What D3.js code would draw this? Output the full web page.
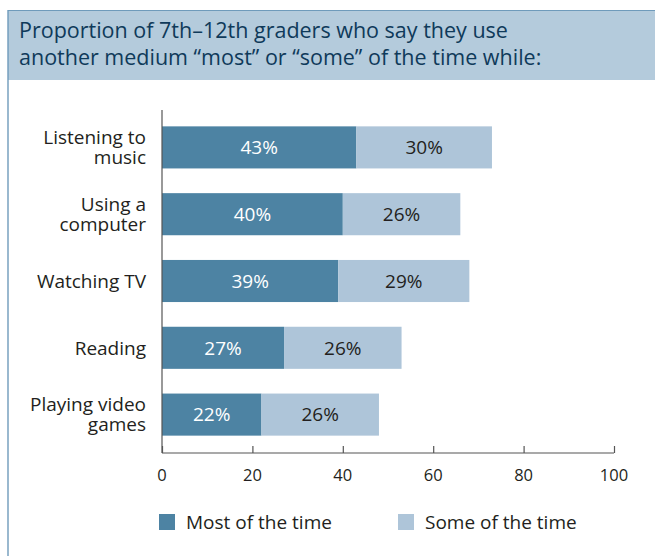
<!DOCTYPE html>
<html>
<head>
<meta charset="utf-8">
<script src="https://cdn.jsdelivr.net/npm/d3@7"></script>
<style>
  html, body { margin: 0; padding: 0; background: #fff; }
  svg { display: block; }
  text { font-family: "Open Sans", "Noto Sans", sans-serif; }
</style>
</head>
<body>
<svg id="chart" width="655" height="556"></svg>
<script>
// Activities, with multi-line labels
const categories = [
  ["Listening to", "music"],
  ["Using a", "computer"],
  ["Watching TV"],
  ["Reading"],
  ["Playing video", "games"]
];
const mostValues = [43, 40, 39, 27, 22];
const someValues = [30, 26, 29, 26, 26];
const seriesNames = ["Most of the time", "Some of the time"];
const xTicks = [0, 20, 40, 60, 80, 100];
const titleLines = [
  "Proportion of 7th\u201312th graders who say they use",
  "another medium \u201cmost\u201d or \u201csome\u201d of the time while:"
];

const colors = ["#4d83a3", "#aec5d9"];
const textColor = "#231f20";
const frameColor = "#6f9bbb";

const svg = d3.select("#chart");

// Header band with its frame rules
svg.append("rect")
  .attr("x", 8).attr("y", 10).attr("width", 660).attr("height", 70)
  .attr("fill", "#b4cbdc");
svg.append("line")
  .attr("x1", 8).attr("x2", 655).attr("y1", 10.5).attr("y2", 10.5)
  .attr("stroke", frameColor).attr("stroke-width", 1.2);
svg.append("line")
  .attr("x1", 8).attr("x2", 8).attr("y1", 10).attr("y2", 556)
  .attr("stroke", frameColor).attr("stroke-width", 1.4);

svg.selectAll("text.title")
  .data(titleLines)
  .join("text")
  .attr("class", "title")
  .attr("x", 19)
  .attr("y", (d, i) => 38 + i * 27)
  .attr("fill", "#0f3a5a")
  .attr("font-size", 21.5)
  .text(d => d);

// Scales
const x = d3.scaleLinear().domain([0, 100]).range([162, 614]);
const y = d3.scaleBand()
  .domain(d3.range(categories.length))
  .range([113, 449])
  .paddingInner(0.37)
  .paddingOuter(0.2);

const rows = categories.map((c, i) => ({ label: c, most: mostValues[i], some: someValues[i], i }));

const g = svg.append("g");

// Stacked bars
g.selectAll("rect.most")
  .data(rows)
  .join("rect")
  .attr("x", x(0))
  .attr("y", d => y(d.i))
  .attr("width", d => x(d.most) - x(0))
  .attr("height", y.bandwidth())
  .attr("fill", colors[0]);

g.selectAll("rect.some")
  .data(rows)
  .join("rect")
  .attr("x", d => x(d.most))
  .attr("y", d => y(d.i))
  .attr("width", d => x(d.most + d.some) - x(d.most))
  .attr("height", y.bandwidth())
  .attr("fill", colors[1]);

// Value labels
g.selectAll("text.mostLab")
  .data(rows)
  .join("text")
  .attr("x", d => (x(0) + x(d.most)) / 2)
  .attr("y", d => y(d.i) + y.bandwidth() / 2)
  .attr("dy", "0.36em")
  .attr("text-anchor", "middle")
  .attr("font-size", 19)
  .attr("fill", "#fff")
  .text(d => d.most + "%");

g.selectAll("text.someLab")
  .data(rows)
  .join("text")
  .attr("x", d => (x(d.most) + x(d.most + d.some)) / 2)
  .attr("y", d => y(d.i) + y.bandwidth() / 2)
  .attr("dy", "0.36em")
  .attr("text-anchor", "middle")
  .attr("font-size", 19)
  .attr("fill", textColor)
  .text(d => d.some + "%");

// Category labels: one text per line, centred on the bar
const lineGap = 20;
const catLines = rows.flatMap(d => d.label.map((t, k) => ({
  t,
  cy: y(d.i) + y.bandwidth() / 2 + (k - (d.label.length - 1) / 2) * lineGap
})));
g.selectAll("text.cat")
  .data(catLines)
  .join("text")
  .attr("class", "cat")
  .attr("x", 146)
  .attr("y", d => d.cy)
  .attr("dy", "0.36em")
  .attr("text-anchor", "end")
  .attr("font-size", 19)
  .attr("fill", textColor)
  .text(d => d.t);

// Axes
const axisY = 453;
svg.append("line")
  .attr("x1", x(0)).attr("x2", x(0))
  .attr("y1", 110).attr("y2", axisY)
  .attr("stroke", "#555").attr("stroke-width", 1.2);

const xAxis = svg.append("g")
  .attr("transform", `translate(0,${axisY})`)
  .call(d3.axisTop(x).tickValues(xTicks).tickSize(7).tickFormat(""));
xAxis.select(".domain").attr("stroke", "#555").attr("stroke-width", 1.2).attr("d", `M${x(0)},0H${x(100)}`);
xAxis.selectAll(".tick line").attr("stroke", "#555").attr("stroke-width", 1.2);

svg.selectAll("text.tickLab")
  .data(xTicks)
  .join("text")
  .attr("x", d => x(d))
  .attr("y", 475)
  .attr("dy", "0.36em")
  .attr("text-anchor", "middle")
  .attr("font-size", 16.5)
  .attr("fill", textColor)
  .text(d => d);

// Legend
const legendX = [159, 398];
const leg = svg.selectAll("g.leg")
  .data(seriesNames)
  .join("g")
  .attr("transform", (d, i) => `translate(${legendX[i]},514)`);
leg.append("rect")
  .attr("width", 16).attr("height", 16)
  .attr("fill", (d, i) => colors[i]);
leg.append("text")
  .attr("x", 27).attr("y", 8)
  .attr("dy", "0.36em")
  .attr("font-size", 19)
  .attr("fill", textColor)
  .text(d => d);
</script>
</body>
</html>
